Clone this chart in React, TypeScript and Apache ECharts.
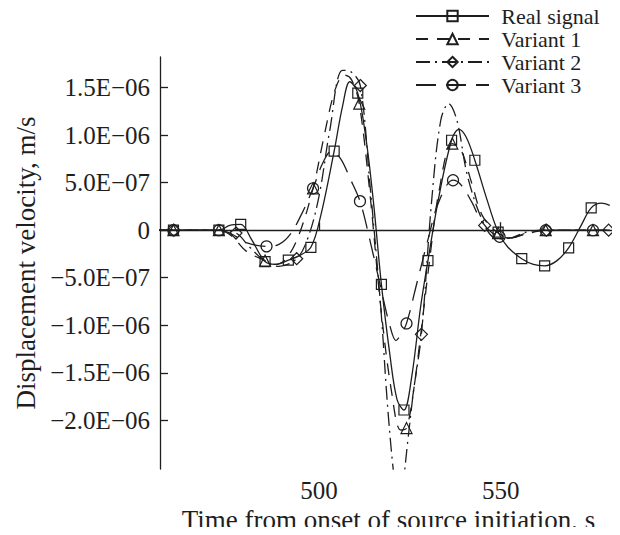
import React, { useEffect, useRef } from "react";
import * as echarts from "echarts";

// x: time (s); y: displacement velocity in units of 1e-7 m/s
const X_TICKS = [500, 550];
const Y_TICKS = [-20, -15, -10, -5, 0, 5, 10, 15];
const SERIES_NAMES = ["Real signal", "Variant 1", "Variant 2", "Variant 3"];

const realX = [456, 460, 466, 472.5, 475.5, 478.5, 481.5, 485.2, 488, 491.6, 494.5, 497.8, 500.5, 504.2, 506.5, 508.5, 510.7, 513, 515, 517.2, 519.5, 521.5, 523.4, 525.5, 528, 530, 533, 536.5, 538.5, 540.5, 542.9, 546, 549.3, 552, 555.8, 559, 562.1, 565.5, 568.7, 572, 574.9, 577.7, 580];
const realY = [0, 0, 0, 0, 0.5, 0.6, -1.0, -3.3, -3.6, -3.15, -2.7, -1.8, 1.5, 8.3, 13, 15.6, 14.4, 9.5, 3, -5.7, -13, -17.8, -18.9, -15.5, -8, -3.2, 3.5, 9.45, 10.6, 9.8, 7.35, 3.5, -0.2, -1.8, -3.0, -3.6, -3.75, -3.2, -1.85, 0.4, 2.35, 2.85, 2.6];
const realMarks = [460, 472.5, 478.5, 485.2, 491.6, 497.8, 504.2, 510.7, 517.2, 523.4, 530, 536.5, 542.9, 549.3, 555.8, 562.1, 568.7, 574.9];

const v1X = [456, 460, 466, 472.5, 476, 480, 485.2, 488, 491, 494.5, 498.4, 501.5, 504.5, 507, 509, 511.1, 514, 517, 520, 522.5, 524.1, 526, 528, 530.5, 533, 536.7, 539, 542, 545, 549.3, 553, 557, 562.4, 568, 575.4, 580];
const v1Y = [0, 0, 0, 0, -0.6, -2.2, -3.2, -3.6, -3.0, -0.5, 4.4, 10, 14.8, 16.3, 15.8, 13.3, 4, -8, -17, -21, -20.8, -17, -11, -3, 4, 9.1, 8.5, 5, 1.5, -0.3, -0.8, -0.4, 0, 0, 0, 0];
const v1Marks = [460, 472.5, 485.2, 498.4, 511.1, 524.1, 536.7, 549.3, 562.4, 575.4];

const v2X = [456, 460.1, 466, 472, 477.2, 481, 485, 489, 493.9, 497, 500, 503, 506.5, 509, 511.4, 514, 517, 519, 521, 522, 523, 524.5, 526, 528.2, 531, 533.5, 535.7, 538, 541, 545.6, 549, 553, 557, 562.6, 570, 579.7];
const v2Y = [0, 0, 0, 0, -0.3, -1.8, -3.2, -3.8, -3.0, -0.8, 3.5, 10.5, 16.8, 16.6, 15.2, 5, -8, -19, -27, -28.5, -27, -22, -17, -10.95, 3, 11.5, 13.3, 11.5, 5.5, 0.5, -0.9, -0.8, -0.2, 0, 0, 0];
const v2Marks = [460.1, 477.2, 493.9, 511.4, 528.2, 545.6, 562.6, 579.7];

const v3X = [456, 460, 466, 472.5, 476, 480, 485.6, 489, 492, 495, 498.4, 501, 503.5, 506, 508.5, 511.3, 514, 517, 519.5, 521.2, 522.5, 524.1, 527, 530, 533, 536.9, 539, 542, 545, 549.7, 553, 557, 562.4, 568, 575.4, 580];
const v3Y = [0, 0, 0, 0, -0.4, -1.3, -1.7, -1.5, -0.5, 1.5, 4.4, 7, 8.3, 7.5, 5.5, 3.05, -1, -6, -10, -11.6, -11, -9.8, -5.5, -1, 3, 5.25, 4.8, 3, 0.8, -0.7, -0.8, -0.3, 0, 0, 0, 0];
const v3Marks = [460, 472.5, 485.6, 498.4, 511.3, 524.1, 536.9, 549.7, 562.4, 575.4];

const FONT = "'Liberation Serif', 'Times New Roman', serif";
const INK = "#1e1e1e";

function fmtY(v: number): string {
  if (Math.abs(v) < 1e-9) return "0";
  const neg = v < 0;
  const a = Math.abs(v);
  let mant: number, exp: number;
  if (a >= 10) {
    mant = a / 10;
    exp = 6;
  } else {
    mant = a;
    exp = 7;
  }
  return (neg ? "\u2212" : "") + mant.toFixed(1) + "E\u22120" + exp;
}

function buildData(xs: number[], ys: number[], marks: number[]) {
  return xs.map((x, i) => {
    const isMark = marks.some((m) => Math.abs(m - x) < 1e-6);
    return isMark ? { value: [x, ys[i]] } : { value: [x, ys[i]], symbol: "none" };
  });
}

export default function App() {
  const ref = useRef<HTMLDivElement>(null);
  useEffect(() => {
    if (!ref.current) return;
    const chart = echarts.init(ref.current, null, { renderer: "svg" });
    const mk = (
      name: string,
      xs: number[],
      ys: number[],
      marks: number[],
      symbol: string,
      dash: any,
      size: number
    ) => ({
      name,
      type: "line",
      data: buildData(xs, ys, marks),
      smooth: 0.35,
      symbol,
      symbolSize: size,
      showSymbol: true,
      clip: true,
      lineStyle: { color: INK, width: 1.3, type: dash },
      itemStyle: { color: "transparent", borderColor: INK, borderWidth: 1.2 },
      emphasis: { disabled: true },
      z: 2,
    });
    chart.setOption({
      animation: false,
      backgroundColor: "#fff",
      grid: { left: 160, right: 3, top: 57, bottom: 66, containLabel: false, outerBoundsMode: "none" },
      legend: {
        orient: "vertical",
        left: 415,
        top: 5,
        padding: 0,
        itemWidth: 73,
        itemHeight: 13,
        itemGap: 1,
        selectedMode: false,
        data: SERIES_NAMES,
        formatter: (n: string) => "\u2004" + n,
        textStyle: { fontFamily: FONT, fontSize: 22, color: INK },
      },
      xAxis: {
        type: "value",
        min: 456.3,
        max: 582,
        name: "Time from onset of source initiation, s",
        nameLocation: "middle",
        nameGap: 37,
        nameMoveOverlap: false,
        nameTextStyle: { fontFamily: FONT, fontSize: 27, color: INK },
        axisLine: { show: true, lineStyle: { color: INK, width: 1.3 } },
        axisTick: { show: true, inside: true, length: 8, customValues: X_TICKS, lineStyle: { color: INK, width: 1.3 } },
        axisLabel: { customValues: X_TICKS, fontFamily: FONT, fontSize: 25, color: INK, margin: 9 },
        splitLine: { show: false },
      },
      yAxis: {
        type: "value",
        min: -25.1,
        max: 18.2,
        name: "Displacement velocity, m/s",
        nameLocation: "middle",
        nameGap: 121,
        nameRotate: 90,
        nameMoveOverlap: false,
        nameTextStyle: { fontFamily: FONT, fontSize: 27, color: INK },
        axisLine: { show: true, lineStyle: { color: INK, width: 1.3 } },
        axisTick: { show: true, inside: true, length: 8, customValues: Y_TICKS, lineStyle: { color: INK, width: 1.3 } },
        axisLabel: { customValues: Y_TICKS, formatter: fmtY, fontFamily: FONT, fontSize: 25, color: INK, margin: 10 },
        splitLine: { show: false },
      },
      series: [
        mk(SERIES_NAMES[0], realX, realY, realMarks, "rect", "solid", 10),
        mk(SERIES_NAMES[1], v1X, v1Y, v1Marks, "triangle", [12, 9], 11),
        mk(SERIES_NAMES[2], v2X, v2Y, v2Marks, "diamond", [14, 5, 2, 5], 12),
        mk(SERIES_NAMES[3], v3X, v3Y, v3Marks, "circle", [20, 10], 11),
      ],
    });
    return () => chart.dispose();
  }, []);
  return <div ref={ref} style={{ width: 620, height: 535, margin: -8 }} />;
}
